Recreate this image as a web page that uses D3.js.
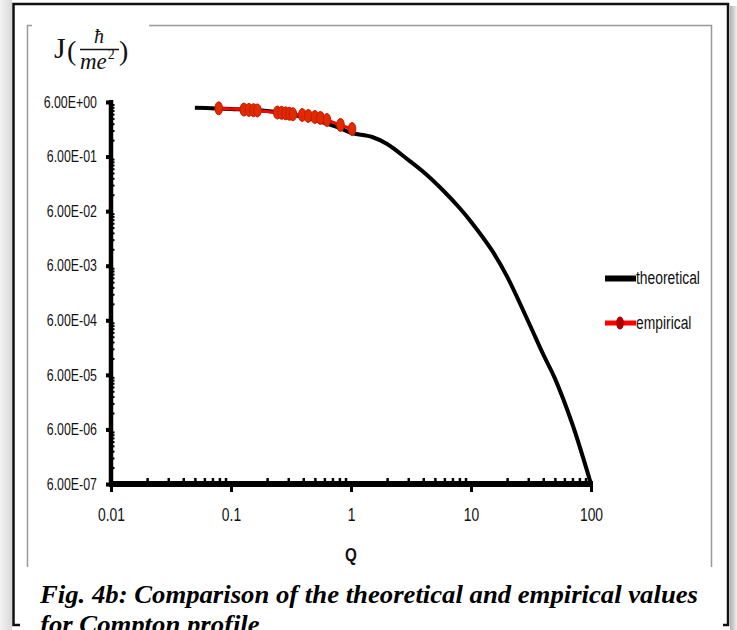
<!DOCTYPE html>
<html>
<head>
<meta charset="utf-8">
<script src="https://cdn.jsdelivr.net/npm/d3@7"></script>
<style>
  html, body { margin: 0; padding: 0; background: #fff; }
  svg { display: block; }
  .narrow { font-family: "Liberation Sans Narrow", "Arial Narrow", "Liberation Sans", sans-serif; }
</style>
</head>
<body>
<svg id="chart" width="737" height="630"></svg>
<script>
// ---- data ----
const theoreticalQ = [0.05, 0.1, 0.2, 0.3, 0.4, 0.5, 0.6, 0.8, 1.0, 1.5, 2, 3, 4, 6, 8, 10, 15, 20, 30, 40, 50, 70, 100];
const theoreticalJ = [4.72, 4.47, 4.10, 3.62, 3.19, 2.81, 2.48, 2.01, 1.63, 1.37, 1.02, 0.522, 0.315, 0.136, 0.0692, 0.0384, 0.0113, 0.00379, 5.7e-4, 1.42e-4, 5.18e-5, 7.46e-6, 6.0e-7];
const empiricalQ = [0.079, 0.128, 0.141, 0.154, 0.166, 0.243, 0.264, 0.285, 0.307, 0.328, 0.392, 0.44, 0.50, 0.556, 0.63, 0.817, 1.02];
const empiricalJ = [4.60, 4.35, 4.30, 4.25, 4.20, 3.85, 3.80, 3.72, 3.65, 3.58, 3.47, 3.33, 3.19, 3.06, 2.81, 2.28, 1.92];
const xTicks = [0.01, 0.1, 1, 10, 100];
const xTickLabels = ["0.01", "0.1", "1", "10", "100"];
const yTicks = [6, 0.6, 0.06, 0.006, 0.0006, 0.00006, 0.000006, 0.0000006];
const yTickLabels = ["6.00E+00", "6.00E-01", "6.00E-02", "6.00E-03", "6.00E-04", "6.00E-05", "6.00E-06", "6.00E-07"];
const seriesNames = ["theoretical", "empirical"];
const xTitle = "Q";
const captionLines = ["Fig. 4b: Comparison of the theoretical and empirical values", "for Compton profile"];

const svg = d3.select("#chart");

function condense(sel, factor) {
  sel.each(function () {
    const w = this.getComputedTextLength();
    d3.select(this).attr("textLength", w * factor).attr("lengthAdjust", "spacingAndGlyphs");
  });
}
const NARROW = 0.77;

// ---- frame / background ----
const defs = svg.append("defs");
const gl = defs.append("linearGradient").attr("id", "shadowL").attr("x1", 0).attr("x2", 1);
gl.append("stop").attr("offset", 0).attr("stop-color", "#f4f4f4");
gl.append("stop").attr("offset", 1).attr("stop-color", "#d8d8d8");
const gr = defs.append("linearGradient").attr("id", "shadowR").attr("x1", 0).attr("x2", 1);
gr.append("stop").attr("offset", 0).attr("stop-color", "#b0b0b0");
gr.append("stop").attr("offset", 1).attr("stop-color", "#f0f0f0");
svg.append("rect").attr("x", 0).attr("y", 0).attr("width", 12).attr("height", 630).attr("fill", "url(#shadowL)");
svg.append("rect").attr("x", 730).attr("y", 6).attr("width", 7).attr("height", 624).attr("fill", "url(#shadowR)");

svg.append("rect").attr("x", 13.5).attr("y", 4).attr("width", 714.5).attr("height", 621)
  .attr("fill", "#fff").attr("stroke", "#111").attr("stroke-width", 2.5);

const gray = "#999";
svg.append("line").attr("x1", 27.5).attr("y1", 25).attr("x2", 27.5).attr("y2", 567).attr("stroke", gray).attr("stroke-width", 1.5);
svg.append("line").attr("x1", 711.5).attr("y1", 25).attr("x2", 711.5).attr("y2", 567).attr("stroke", gray).attr("stroke-width", 1.5);
svg.append("line").attr("x1", 27).attr("y1", 25.5).attr("x2", 32).attr("y2", 25.5).attr("stroke", gray).attr("stroke-width", 1.5);
svg.append("line").attr("x1", 149).attr("y1", 25.5).attr("x2", 712).attr("y2", 25.5).attr("stroke", gray).attr("stroke-width", 1.5);

// ---- scales ----
const x = d3.scaleLog().domain([0.01, 100]).range([111, 591]);
const y = d3.scaleLog().domain([6e-7, 6]).range([484, 102]);

// ---- axes ----
const ink = "#000";
const xMinor = [];
for (let d = -2; d < 2; d++) for (let k = 2; k <= 9; k++) xMinor.push(k * Math.pow(10, d));
const xMinorAxis = svg.append("g").attr("transform", "translate(0,484)")
  .call(d3.axisBottom(x).tickValues(xMinor).tickSize(-6).tickFormat(""));
xMinorAxis.select(".domain").remove();
xMinorAxis.selectAll(".tick line").attr("stroke", ink).attr("stroke-width", 2.5);

const yMinor = [];
for (let d = -7; d < 0; d++) for (let k = 2; k <= 9; k++) yMinor.push(6 * k * Math.pow(10, d));
const yMinorAxis = svg.append("g").attr("transform", "translate(111,0)")
  .call(d3.axisLeft(y).tickValues(yMinor).tickSize(-3.5).tickFormat(""));
yMinorAxis.select(".domain").remove();
yMinorAxis.selectAll(".tick line").attr("stroke", ink).attr("stroke-width", 2);

const xAxis = svg.append("g").attr("transform", "translate(0,484)")
  .call(d3.axisBottom(x).tickValues(xTicks).tickSize(8).tickPadding(16).tickFormat((d, i) => xTickLabels[i]));
xAxis.select(".domain").attr("stroke", ink).attr("stroke-width", 6).attr("d", "M109,0H593");
xAxis.selectAll(".tick line").attr("stroke", ink).attr("stroke-width", 3);
xAxis.selectAll(".tick text").attr("class", "narrow").attr("font-size", 18).attr("fill", "#111")
  .attr("dy", "0.71em").call(condense, NARROW);

const yAxis = svg.append("g").attr("transform", "translate(111,0)")
  .call(d3.axisLeft(y).tickValues(yTicks).tickSize(5).tickPadding(9).tickFormat((d, i) => yTickLabels[i]));
yAxis.select(".domain").attr("stroke", ink).attr("stroke-width", 4.5).attr("d", "M0,100V487");
yAxis.selectAll(".tick line").attr("stroke", ink).attr("stroke-width", 4);
yAxis.selectAll(".tick text").attr("class", "narrow").attr("font-size", 16.5).attr("fill", "#111")
  .call(condense, 0.75);

svg.append("text").attr("class", "narrow").attr("x", x(1)).attr("y", 561)
  .attr("text-anchor", "middle").attr("font-size", 19).attr("font-weight", "bold").attr("fill", "#111")
  .text(xTitle).call(condense, 0.8);

// ---- series ----
const theo = theoreticalQ.map((q, i) => [q, theoreticalJ[i]]);
const emp = empiricalQ.map((q, i) => [q, empiricalJ[i]]);
const line = d3.line().x(d => x(d[0])).y(d => y(d[1])).curve(d3.curveCatmullRom.alpha(0.5));

svg.append("path").datum(theo).attr("d", line).attr("fill", "none")
  .attr("stroke", "#000").attr("stroke-width", 4).attr("stroke-linejoin", "round");

svg.append("path").datum(emp).attr("d", line).attr("fill", "none")
  .attr("stroke", "#ff0000").attr("stroke-width", 3);
svg.append("g").selectAll("ellipse").data(emp).join("ellipse")
  .attr("cx", d => x(d[0])).attr("cy", d => y(d[1]))
  .attr("rx", 3.8).attr("ry", 6.5)
  .attr("fill", "#e02a00").attr("stroke", "#c81800").attr("stroke-width", 1);

// ---- legend ----
const lg = svg.append("g");
lg.append("line").attr("x1", 605).attr("x2", 636).attr("y1", 278.5).attr("y2", 278.5)
  .attr("stroke", "#000").attr("stroke-width", 6);
lg.append("text").attr("class", "narrow").attr("x", 636).attr("y", 284).attr("font-size", 18).attr("fill", "#111")
  .text(seriesNames[0]).call(condense, NARROW);
lg.append("line").attr("x1", 605).attr("x2", 636).attr("y1", 323).attr("y2", 323)
  .attr("stroke", "#ff0000").attr("stroke-width", 5);
lg.append("ellipse").attr("cx", 620).attr("cy", 323).attr("rx", 4).attr("ry", 6.5).attr("fill", "#b00000");
lg.append("text").attr("class", "narrow").attr("x", 636).attr("y", 329).attr("font-size", 18).attr("fill", "#111")
  .text(seriesNames[1]).call(condense, NARROW);

// ---- unit label J(ħ/me²) ----
const serif = "'Liberation Serif', 'DejaVu Serif', serif";
const ul = svg.append("g").attr("font-family", serif).attr("fill", "#111");
ul.append("text").attr("x", 54).attr("y", 58).attr("font-size", 30).text("J");
ul.append("text").attr("x", 67).attr("y", 60).attr("font-size", 28).text("(");
ul.append("text").attr("x", 99).attr("y", 43).attr("font-size", 20).attr("font-style", "italic").attr("text-anchor", "middle").text("ħ");
ul.append("line").attr("x1", 80).attr("x2", 119).attr("y1", 49.5).attr("y2", 49.5).attr("stroke", "#111").attr("stroke-width", 1.3);
const me = ul.append("text").attr("x", 80).attr("y", 69).attr("font-size", 23).attr("font-style", "italic");
me.append("tspan").text("me");
me.append("tspan").attr("font-size", 14).attr("font-style", "normal").attr("dy", -10).attr("dx", 1).text("2");
ul.append("text").attr("x", 119).attr("y", 60).attr("font-size", 28).text(")");

// ---- caption ----
svg.append("rect").attr("x", 20).attr("y", 612).attr("width", 703).attr("height", 18).attr("fill", "#fff");
const cap = svg.append("g").attr("font-family", serif).attr("font-weight", "bold").attr("font-style", "italic")
  .attr("font-size", 25).attr("fill", "#000");
const c1 = cap.append("text").attr("x", 40).attr("y", 603).text(captionLines[0]);
const w1 = c1.node().getComputedTextLength();
const capFactor = 658 / w1;
c1.attr("textLength", 658).attr("lengthAdjust", "spacingAndGlyphs");
const c2 = cap.append("text").attr("x", 40).attr("y", 633).text(captionLines[1]);
c2.attr("textLength", c2.node().getComputedTextLength() * capFactor).attr("lengthAdjust", "spacingAndGlyphs");
</script>
</body>
</html>
